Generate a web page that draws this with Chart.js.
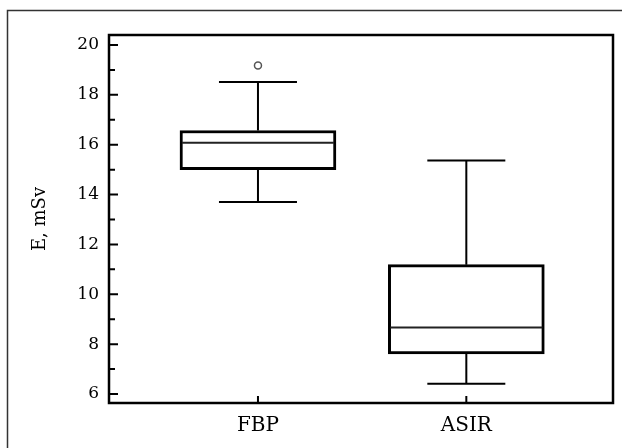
<!DOCTYPE html>
<html>
<head>
<meta charset="utf-8">
<script src="https://cdn.jsdelivr.net/npm/chart.js@4/dist/chart.umd.min.js"></script>
<style>
  html, body { margin: 0; padding: 0; background: #fff; }
  #wrap { width: 622px; height: 448px; }
</style>
</head>
<body>
<div id="wrap"><canvas id="myChart"></canvas></div>
<script>
const categories = ["FBP", "ASIR"];
const whiskerLow = [13.7, 6.41];
const q1 = [15.0, 7.61];
const median = [16.08, 8.67];
const q3 = [16.57, 11.19];
const whiskerHigh = [18.51, 15.37];
const outliers = [[19.18], []];
const yTicks = [6, 8, 10, 12, 14, 16, 18, 20];

const ink = "#000";

// medians, whiskers, caps, outliers, inward ticks and frames
const boxExtras = {
  id: "boxExtras",
  beforeDraw(chart) {
    const ctx = chart.ctx;
    ctx.save();
    ctx.strokeStyle = "#333";
    ctx.lineWidth = 1.5;
    ctx.beginPath();
    ctx.moveTo(7.5, chart.height);
    ctx.lineTo(7.5, 10.5);
    ctx.lineTo(chart.width, 10.5);
    ctx.stroke();
    ctx.restore();
  },
  afterDatasetsDraw(chart) {
    const ctx = chart.ctx;
    const x = chart.scales.x;
    const y = chart.scales.y;
    const area = chart.chartArea;
    const capHalf = 39;
    const boxHalf = 78;
    ctx.save();
    ctx.lineCap = "butt";
    categories.forEach((c, i) => {
      const cx = x.getPixelForValue(i);
      // whiskers
      ctx.strokeStyle = ink;
      ctx.lineWidth = 2;
      ctx.beginPath();
      ctx.moveTo(cx, y.getPixelForValue(q3[i]));
      ctx.lineTo(cx, y.getPixelForValue(whiskerHigh[i]));
      ctx.moveTo(cx, y.getPixelForValue(q1[i]));
      ctx.lineTo(cx, y.getPixelForValue(whiskerLow[i]));
      ctx.moveTo(cx - capHalf, y.getPixelForValue(whiskerHigh[i]));
      ctx.lineTo(cx + capHalf, y.getPixelForValue(whiskerHigh[i]));
      ctx.moveTo(cx - capHalf, y.getPixelForValue(whiskerLow[i]));
      ctx.lineTo(cx + capHalf, y.getPixelForValue(whiskerLow[i]));
      ctx.stroke();
      // median
      ctx.strokeStyle = "#222";
      ctx.lineWidth = 2;
      ctx.beginPath();
      ctx.moveTo(cx - boxHalf + 2, y.getPixelForValue(median[i]));
      ctx.lineTo(cx + boxHalf - 2, y.getPixelForValue(median[i]));
      ctx.stroke();
      // outliers
      ctx.strokeStyle = "#555";
      ctx.lineWidth = 1.5;
      outliers[i].forEach(v => {
        ctx.beginPath();
        ctx.arc(cx, y.getPixelForValue(v), 3.5, 0, Math.PI * 2);
        ctx.stroke();
      });
    });

    // inward ticks
    ctx.strokeStyle = ink;
    ctx.lineWidth = 2;
    ctx.beginPath();
    for (let v = Math.ceil(y.min); v <= y.max; v++) {
      const py = y.getPixelForValue(v);
      const len = v % 2 === 0 ? 9 : 6;
      ctx.moveTo(area.left, py);
      ctx.lineTo(area.left + len, py);
    }
    categories.forEach((c, i) => {
      const px = x.getPixelForValue(i);
      ctx.moveTo(px, area.bottom);
      ctx.lineTo(px, area.bottom - 7);
    });
    ctx.stroke();

    // plot frame
    ctx.lineWidth = 2.5;
    ctx.strokeRect(area.left, area.top, area.right - area.left, area.bottom - area.top);
    ctx.restore();
  }
};

const data = {
  datasets: [
    {
      label: "E",
      data: categories.map((c, i) => ({ x: i, y: [q1[i], q3[i]] })),
      backgroundColor: "#fff",
      borderColor: ink,
      borderWidth: 3,
      borderSkipped: false,
      barThickness: 156,
    },
  ],
};

const config = {
  type: "bar",
  data: data,
  options: {
    responsive: true,
    maintainAspectRatio: false,
    animation: false,
    layout: {
      padding: { top: 35, right: 9, bottom: 0, left: 0 },
    },
    scales: {
      x: {
        type: "linear",
        offset: false,
        min: -0.715,
        max: 1.704,
        grid: { display: false, drawTicks: false },
        border: { display: false },
        afterBuildTicks: s => { s.ticks = categories.map((c, i) => ({ value: i })); },
        afterFit: s => { s.height = 45; },
        ticks: {
          padding: 11,
          color: "#000",
          font: { family: "DejaVu Serif", size: 20 },
          callback: v => categories[v],
        },
      },
      y: {
        min: 5.64,
        max: 20.4,
        grid: { display: false, drawTicks: false },
        border: { display: false },
        afterBuildTicks: s => { s.ticks = yTicks.map(v => ({ value: v })); },
        afterFit: s => { s.width = 109; },
        ticks: {
          padding: 10,
          color: "#000",
          font: { family: "DejaVu Serif", size: 17 },
        },
        title: {
          display: true,
          text: "E, mSv",
          color: "#000",
          font: { family: "DejaVu Serif", size: 18 },
          padding: { top: 30, bottom: 0 },
        },
      },
    },
    plugins: {
      legend: { display: false },
      tooltip: { enabled: false },
    },
  },
  plugins: [boxExtras],
};

const myChart = new Chart(document.getElementById("myChart").getContext("2d"), config);
</script>
</body>
</html>
